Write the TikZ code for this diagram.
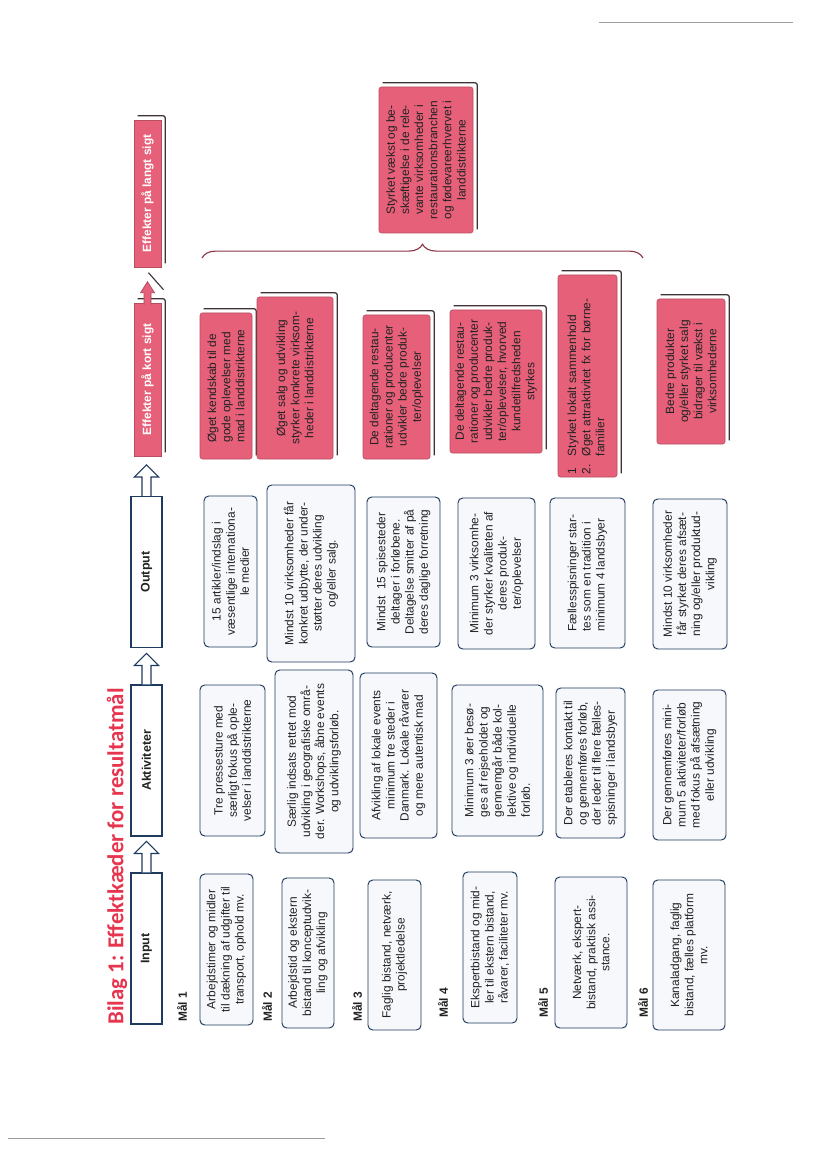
\documentclass[tikz,border=0pt]{standalone}
\usepackage{fontspec}
\setmainfont{Liberation Sans}
\newfontfamily\titlefont{Carlito}
\usetikzlibrary{calc, backgrounds, decorations.pathreplacing}
\definecolor{boxLine}{HTML}{1F3A5F}
\definecolor{boxFill}{HTML}{F7F8FB}
\definecolor{effRed}{HTML}{E6607A}
\definecolor{effShadow}{HTML}{3E3236}
\definecolor{braceRed}{HTML}{8E3347}
\definecolor{titleRed}{HTML}{E8354F}
\definecolor{inkText}{HTML}{222222}
\definecolor{ruleGray}{HTML}{9C9C9C}
\newcommand{\pxu}{0.254mm}

\begin{document}
\begin{tikzpicture}[x=0.254mm, y=-0.254mm,
  every node/.style={font=\fontsize{8.6}{10.2}\selectfont, text=inkText},
  wh/.style 2 args={minimum width=#1*\pxu, minimum height=#2*\pxu},
  box/.style={draw=boxLine, fill=boxFill, rounded corners=1.2mm, line width=0.7pt,
    rotate=90, align=center, inner sep=2pt},
  effbox/.style={draw=effRed!80!black, fill=effRed, rounded corners=0.6mm, line width=0.4pt,
    rotate=90, align=center, inner sep=2pt},
  head/.style={draw=boxLine, fill=white, line width=0.8pt, rotate=90, wh={151}{31},
    font=\fontsize{9}{11}\selectfont\bfseries},
  effhead/.style={effbox, sharp corners, text=white, font=\fontsize{8.6}{11}\selectfont\bfseries},
  maal/.style={rotate=90, anchor=west, inner sep=0pt, font=\fontsize{8.6}{10}\selectfont\bfseries},
  blockarr/.style={draw=boxLine, fill=white, line width=0.8pt, line join=miter},
  shadowline/.style={draw=effShadow, line width=0.9pt, rounded corners=0.6mm},
]
  \useasboundingbox (0,0) rectangle (828,1169);

  % page rules from the scan
  \coordinate (ruleTopA) at (599,22);
  \coordinate (ruleTopB) at (793,22);
  \coordinate (ruleBotA) at (8,1138);
  \coordinate (ruleBotB) at (325,1138);
  \draw[ruleGray, line width=0.5pt] (ruleTopA) -- (ruleTopB);
  \draw[ruleGray, line width=0.5pt] (ruleBotA) -- (ruleBotB);

  % title
  \node[rotate=90, anchor=west, inner sep=0pt, text=titleRed,
    font=\titlefont\bfseries\fontsize{16.5}{18}\selectfont] (title) at (117,1025)
    {Bilag 1: Effektkæder for resultatmål};

  % column headers
  \node[head] (hInput) at (146.5,948.5) {Input};
  \node[head] (hAkt) at (146.5,760.5) {Aktiviteter};
  \node[head] (hOut) at (146.5,572) {Output};
  \node[effhead, wh={153}{27}] (hKort) at (147.5,379.5) {Effekter på kort sigt};
  \node[effhead, wh={147}{27}] (hLang) at (147.5,193.5) {Effekter på langt sigt};

  \foreach \n in {hInput, hAkt, hOut}
    \draw[blockarr] ($(\n.east)+(-4.5,0)$) -- ++(0,-19) -- ++(-7.5,0)
      -- ($(\n.east)+(0,-31)$) -- ($(\n.east)+(12,-19)$) -- ++(-7.5,0) -- ++(0,19);

  % red arrow towards the long term
  \draw[fill=effRed, draw=effRed!75!black, line width=0.5pt]
    ($(hKort.east)+(-3.5,2)$) -- ++(0,-12) -- ++(-3.5,0) -- ($(hKort.east)+(0,-21)$)
    -- ($(hKort.east)+(7,-10)$) -- ++(-3.5,0) -- ++(0,12);
  \draw[effShadow, line width=0.8pt] ($(hKort.east)+(1,-30)$) -- ($(hKort.east)+(16,-13)$);

  % Mål labels
  \foreach \n/\x/\y in {1/182/1022, 2/267/1022, 3/357/1022, 4/443/1018, 5/543/1018, 6/643/1018}
    \node[maal] (m\n) at (\x,\y) {Mål \n};

  % Input
  \node[box, wh={151}{53}] (i1) at (226.5,949.5)
    {Arbejdstimer og midler\\til dækning af udgifter til\\transport, ophold mv.};
  \node[box, wh={150}{52}] (i2) at (308,953)
    {Arbejdstid og ekstern\\bistand til konceptudvik-\\ling og afvikling};
  \node[box, wh={150}{53}] (i3) at (394.5,955)
    {Faglig bistand, netværk,\\projektledelse};
  \node[box, wh={151}{54}] (i4) at (490,947.5)
    {Ekspertbistand og mid-\\ler til ekstern bistand,\\råvarer, faciliteter mv.};
  \node[box, wh={151}{72}] (i5) at (591,952.5)
    {Netværk, ekspert-\\bistand, praktisk assi-\\stance.};
  \node[box, wh={150}{72}] (i6) at (689,955)
    {Kanaladgang, faglig\\bistand, fælles platform\\mv.};

  % Aktiviteter
  \node[box, wh={151}{65}] (a1) at (232.5,760.5)
    {Tre pressesture med\\særligt fokus på ople-\\velser i landdistrikterne};
  \node[box, wh={183}{78}] (a2) at (314,761.5)
    {Særlig indsats rettet mod\\udvikling i geografiske områ-\\der. Workshops, åbne events\\og udviklingsforløb.};
  \node[box, wh={165}{77}] (a3) at (398.5,755.5)
    {Afvikling af lokale events\\minimum tre steder i\\Danmark. Lokale råvarer\\og mere autentisk mad};
  \node[box, wh={151}{91}, align=left] (a4) at (497.5,760.5)
    {Minimum 3 øer besø-\\ges af rejseholdet og\\gennemgår både kol-\\lektive og individuelle\\forløb.};
  \node[box, wh={150}{69}, align=left] (a5) at (590.5,763)
    {Der etableres kontakt til\\og gennemføres forløb,\\der leder til flere fælles-\\spisninger i landsbyer};
  \node[box, wh={150}{73}] (a6) at (689.5,765)
    {Der gennemføres mini-\\mum 5 aktiviteter/forløb\\med fokus på afsætning\\eller udvikling};

  % Output
  \node[box, wh={151}{53}] (o1) at (230.5,571.5)
    {15 artikler/indslag i\\væsentlige internationa-\\le medier};
  \node[box, wh={177}{88}] (o2) at (311,573.5)
    {Mindst 10 virksomheder får\\konkret udbytte, der under-\\støtter deres udvikling\\og/eller salg.};
  \node[box, wh={150}{73}] (o3) at (403.5,572)
    {Mindst\ \ 15 spisesteder\\deltager i forløbene.\\Deltagelse smitter af på\\deres daglige forretning};
  \node[box, wh={151}{77}] (o4) at (496.5,573.5)
    {Minimum 3 virksomhe-\\der styrker kvaliteten af\\deres produk-\\ter/oplevelser};
  \node[box, wh={150}{75}, align=left] (o5) at (587.5,573)
    {Fællesspisninger star-\\tes som en tradition i\\minimum 4 landsbyer};
  \node[box, wh={150}{74}] (o6) at (690,574)
    {Mindst 10 virksomheder\\får styrket deres afsæt-\\ning og/eller produktud-\\vikling};

  % Effekter på kort sigt
  \node[effbox, wh={146}{52}, align=left] (k1) at (226,386)
    {Øget kendskab til de\\gode oplevelser med\\mad i landdistrikterne};
  \node[effbox, wh={162}{76}] (k2) at (295,378)
    {Øget salg og udvikling\\styrker konkrete virksom-\\heder i landdistrikterne};
  \node[effbox, wh={144}{67}] (k3) at (396.5,387)
    {De deltagende restau-\\rationer og producenter\\udvikler bedre produk-\\ter/oplevelser};
  \node[effbox, wh={143}{92}] (k4) at (496,381.5)
    {De deltagende restau-\\rationer og producenter\\udvikler bedre produk-\\ter/oplevelser, hvorved\\kundetilfredsheden\\styrkes};
  \node[effbox, wh={202}{59}, align=left, text width=196*\pxu] (k5) at (587.5,376)
    {\begin{tabular}{@{}l@{\ \ }l@{}}1 & Styrket lokalt sammenhold\\2. & Øget attraktivitet fx for børne-\\ & familier\end{tabular}};
  \node[effbox, wh={145}{68}] (k6) at (691,371.5)
    {Bedre produkter\\og/eller styrket salg\\bidrager til vækst i\\virksomhederne};

  % Effekter på langt sigt
  \node[effbox, wh={146}{94}] (lg) at (426,160)
    {Styrket vækst og be-\\skæftigelse i de rele-\\vante virksomheder i\\restaurationsbranchen\\og fødevareerhvervet i\\landdistrikterne};

  \coordinate (braceL) at (202,258);
  \coordinate (braceR) at (643,258);
  \draw[braceRed, line width=0.8pt, decorate, decoration={brace, amplitude=3.5mm, aspect=0.5}]
    (braceL) -- (braceR);

  % white page and offset shadows of the red boxes
  \begin{scope}[on background layer]
    \fill[white] (0,0) rectangle (828,1169);
    \foreach \n in {hKort, hLang, k1, k2, k3, k4, k5, k6, lg}
      \draw[shadowline] ($(\n.south west)+(4,-4)$) -- ($(\n.south east)+(4,-4)$)
        -- ($(\n.north east)+(4,-4)$);
  \end{scope}
\end{tikzpicture}
\end{document}
